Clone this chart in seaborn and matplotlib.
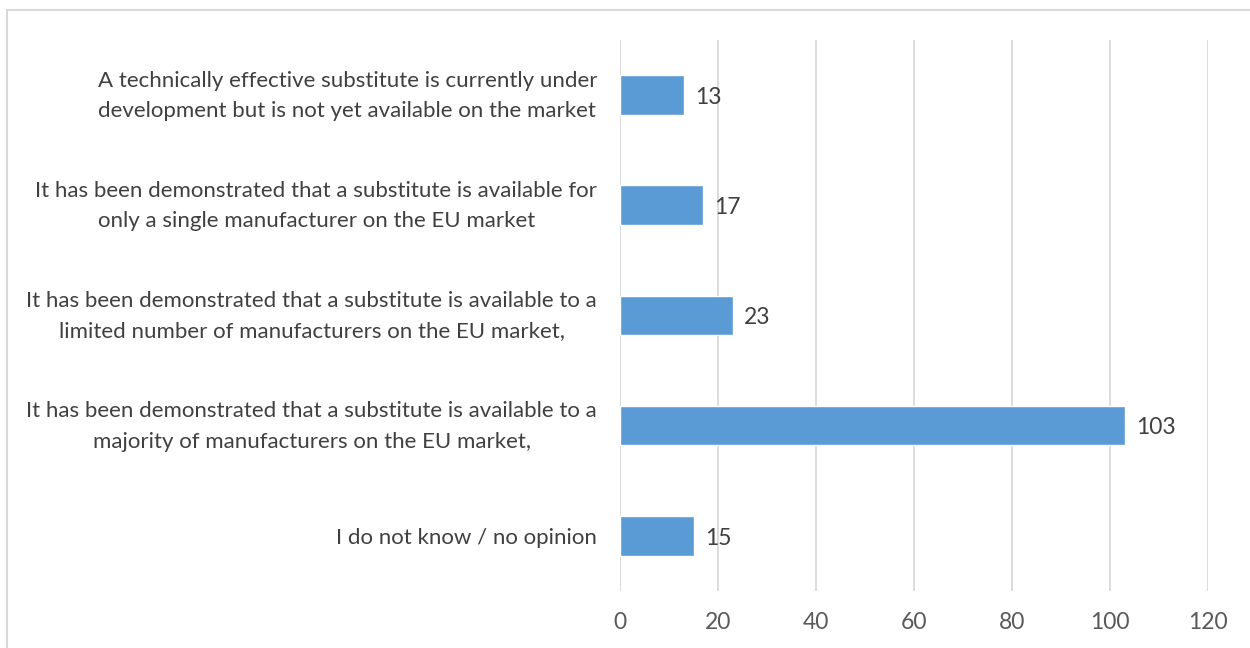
import matplotlib
matplotlib.use("Agg")
import matplotlib.pyplot as plt
import matplotlib.patches as mpatches
from matplotlib.transforms import offset_copy
import seaborn as sns
import pandas as pd

categories = [
    "A technically effective substitute is currently under\ndevelopment but is not yet available on the market",
    "It has been demonstrated that a substitute is available for\nonly a single manufacturer on the EU market",
    "It has been demonstrated that a substitute is available to a\nlimited number of manufacturers on the EU market,",
    "It has been demonstrated that a substitute is available to a\nmajority of manufacturers on the EU market,",
    "I do not know / no opinion",
]
values = [13, 17, 23, 103, 15]
x_ticks = [0, 20, 40, 60, 80, 100, 120]

sns.set_theme(style="white")
plt.rcParams["font.family"] = ["Lato", "DejaVu Sans"]

df = pd.DataFrame({"answer": categories, "count": values})

fig = plt.figure(figsize=(12.5, 6.48), dpi=100)
ax = fig.add_axes([0.496, 0.088, 0.4704, 0.8505])

sns.barplot(data=df, y="answer", x="count", orient="h", color="#5B9BD5",
            saturation=1, width=0.36, ax=ax, order=categories)

ax.set_xlim(0, 120)
ax.set_xticks(x_ticks)
ax.set_xticklabels([str(t) for t in x_ticks])
ax.set_ylim(len(categories) - 0.5, -0.5)
ax.grid(axis="x", color="#D9D9D9", linewidth=1.3)
ax.set_axisbelow(True)
for s in ax.spines.values():
    s.set_visible(False)
ax.set_xlabel("")
ax.set_ylabel("")
ax.tick_params(axis="x", length=0, pad=15, labelsize=16.5, labelcolor="#595959")
ax.tick_params(axis="y", length=0, labelleft=False)

# category labels, right-aligned beside the axis with centred lines
for i, cat in enumerate(categories):
    dy = -0.6 if "\n" in cat else -1.7
    tr = offset_copy(ax.get_yaxis_transform(), fig=fig, x=-16.5, y=dy, units="points")
    ax.text(0, i, cat, transform=tr, ha="right", va="center", multialignment="center",
            linespacing=1.65, fontsize=16, color="#404040")

for i, v in enumerate(values):
    ax.text(v + 2.3, i + 0.02, str(v), va="center", ha="left", fontsize=16.5, color="#404040")

# chart border
fig.patches.append(mpatches.Rectangle((7 / 1250, -0.05), 1.05, 1 - 10 / 648 + 0.05,
                                      transform=fig.transFigure, fill=False,
                                      edgecolor="#D9D9D9", linewidth=1.5))

fig.savefig("out.png", dpi=100)
